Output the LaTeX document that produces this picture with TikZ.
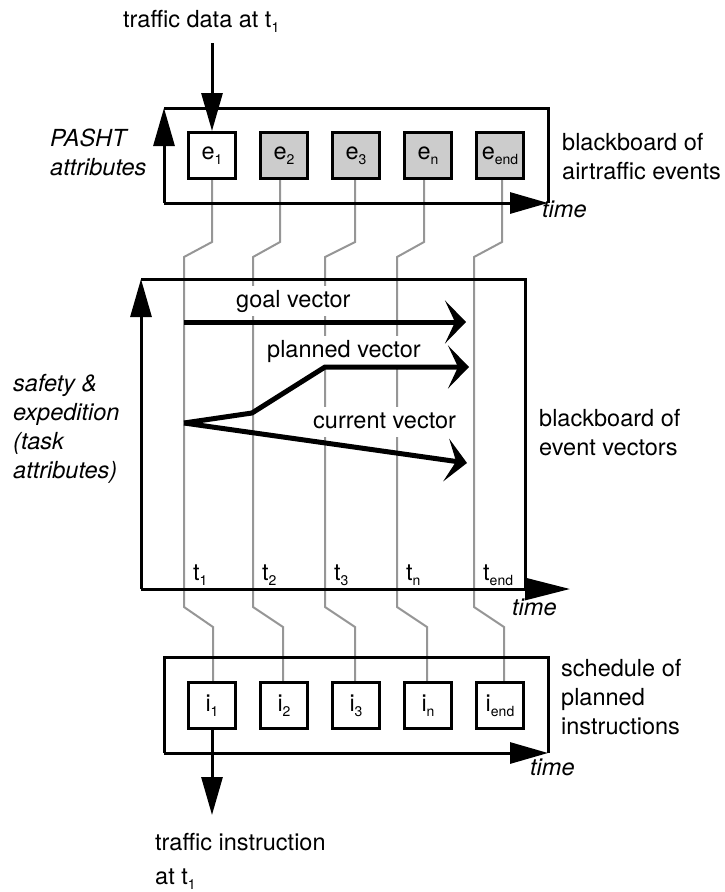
\documentclass[tikz,border=0pt]{standalone}
\usepackage{fontspec}
\setmainfont{TeX Gyre Heros}
\usetikzlibrary{arrows.meta}
\definecolor{lg}{RGB}{150,150,150}
\definecolor{boxgray}{RGB}{204,204,204}
\newcommand\lsub[1]{\raisebox{-5pt}{\fontsize{14}{14}\selectfont #1}}
\begin{document}
\begin{tikzpicture}[x=1pt,y=-1pt,
  every node/.style={font=\fontsize{23.5}{29}\selectfont, inner sep=0pt},
  txt/.style={anchor=base west, align=left},
  itxt/.style={anchor=base west, align=left, font=\fontsize{23.5}{29}\selectfont\itshape},
  frame/.style={line width=3pt, line join=miter},
  axis/.style={frame, -{Triangle[length=38pt,width=21pt]}},
  ebox/.style={draw, line width=3pt, minimum width=47pt, minimum height=46pt, fill=white},
  gbox/.style={ebox, fill=boxgray},
  gline/.style={draw=lg, line width=2pt},
  vec/.style={line width=5pt, line join=round, -{Stealth[length=21pt,width=43pt,inset=10pt]}},
  vlab/.style={anchor=base west, fill=white, inner xsep=2pt, inner ysep=4pt, text height=17pt, text depth=5pt}
]
\useasboundingbox (0,0) rectangle (724,892);

% boxes (nodes)
\node[ebox] (e1) at (212,155.5) {e\lsub{1}};
\node[gbox] (e2) at (284,155.5) {e\lsub{2}};
\node[gbox] (e3) at (356,155.5) {e\lsub{3}};
\node[gbox] (e4) at (428,155.5) {e\lsub{n}};
\node[gbox] (e5) at (500,155.5) {e\lsub{end}};
\node[ebox] (i1) at (212,705.5) {i\lsub{1}};
\node[ebox] (i2) at (284,705.5) {i\lsub{2}};
\node[ebox] (i3) at (356,705.5) {i\lsub{3}};
\node[ebox] (i4) at (428,705.5) {i\lsub{n}};
\node[ebox] (i5) at (500,705.5) {i\lsub{end}};

% gray time lines
\foreach \n/\a/\m/\b in {1/0/184/1, 2/-4/253/-1, 3/-1/325/-1, 4/-4/397/-1, 5/2/474/4}{
  \draw[gline] ([xshift=\a pt]e\n.south) -- ++(0,62) -- (\m,257) -- (\m,607)
     -- ([shift={(\b,-54)}]i\n.north) -- ([xshift=\b pt]i\n.north);
}

% frames
\coordinate (TA) at (164,203); \coordinate (TB) at (164,108);
\coordinate (TC) at (548,108); \coordinate (TD) at (548,203);
\draw[frame] (TB) -- (TC) -- (TD);
\draw[axis] (TA) -- (TB);
\draw[axis] (TA) -- (TD);

\coordinate (MA) at (141,589); \coordinate (MB) at (141,279);
\coordinate (MC) at (525,279); \coordinate (MD) at (525,589);
\coordinate (ME) at (570,589);
\draw[frame] (MB) -- (MC) -- (MD);
\draw[axis] (MA) -- (MB);
\draw[frame, -{Triangle[length=45pt,width=22pt]}] (MA) -- (ME);

\coordinate (BA) at (164,753); \coordinate (BB) at (164,657);
\coordinate (BC) at (548,657); \coordinate (BD) at (548,753);
\draw[frame] (BA) -- (BB) -- (BC) -- (BD);
\draw[axis] (BA) -- (BD);

% redraw boxes on top of lines
\node[ebox] at (e1) {e\lsub{1}};
\node[gbox] at (e2) {e\lsub{2}};
\node[gbox] at (e3) {e\lsub{3}};
\node[gbox] at (e4) {e\lsub{n}};
\node[gbox] at (e5) {e\lsub{end}};
\node[ebox] at (i1) {i\lsub{1}};
\node[ebox] at (i2) {i\lsub{2}};
\node[ebox] at (i3) {i\lsub{3}};
\node[ebox] at (i4) {i\lsub{n}};
\node[ebox] at (i5) {i\lsub{end}};

% input / output arrows
\coordinate (inTop) at (212,43);
\coordinate (outEnd) at (212,815);
\draw[axis] (inTop) -- (e1.north);
\draw[axis] (i1.south) -- (outEnd);

% texts (multi-line nodes: base = last line)
\node[txt] (tin) at (123,27) {traffic data at t\lsub{1}};
\node[itxt] (pasht) at (50,175) {PASHT\\attributes};
\node[itxt] (safety) at (13,478) {safety \&\\expedition\\(task\\attributes)};
\node[txt] (bb1) at (562,179) {blackboard of\\airtraffic events};
\node[itxt] (time1) at (542,217) {time};
\node[txt] (bb2) at (539,455) {blackboard of\\event vectors};
\node[itxt] (time2) at (512,615) {time};
\node[txt] (sched) at (561,734) {schedule of\\planned\\instructions};
\node[itxt] (time3) at (530,775) {time};
\node[txt] (tout) at (155,884) {traffic instruction\\[5pt]at t\lsub{1}};

\node[txt] (t1) at (193,580) {t\lsub{1}};
\node[txt] (t2) at (262,580) {t\lsub{2}};
\node[txt] (t3) at (334,580) {t\lsub{3}};
\node[txt] (t4) at (406,580) {t\lsub{n}};
\node[txt] (t5) at (483,580) {t\lsub{end}};

\node[vlab] (lg) at (234,307) {goal vector};
\node[vlab] (lp) at (265,357) {planned vector};
\node[vlab] (lc) at (311,428) {current vector};

% vectors
\coordinate (v0) at (184,423);
\coordinate (g0) at (184,322); \coordinate (g1) at (466,322);
\coordinate (p1) at (252,413); \coordinate (p2) at (325,367); \coordinate (p3) at (469,367);
\coordinate (c1) at (467,463);
\draw[vec] (g0) -- (g1);
\draw[vec] (v0) -- (p1) -- (p2) -- (p3);
\draw[vec] (v0) -- (c1);
\end{tikzpicture}
\end{document}
